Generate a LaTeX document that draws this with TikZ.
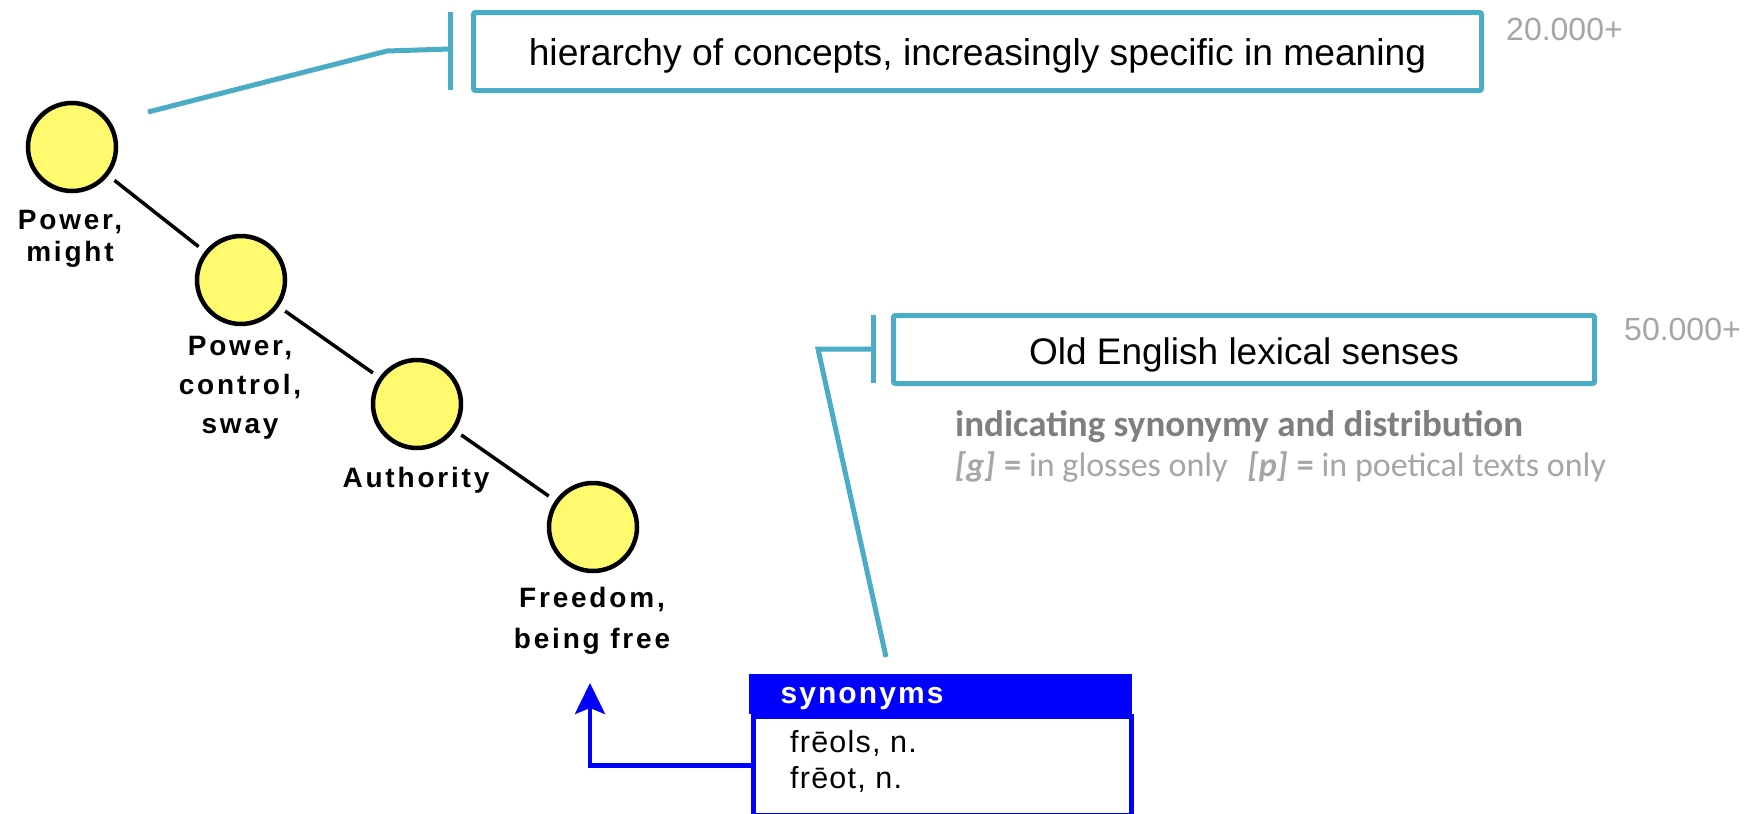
\documentclass[tikz,border=0pt]{standalone}
\usepackage{fontspec}
\setmainfont{Liberation Sans}
\newfontfamily\lblfont{Liberation Sans}[LetterSpace=10]
\newfontfamily\synfont{Liberation Sans}[LetterSpace=7]
\newfontfamily\wordfont{Liberation Sans}[LetterSpace=4]
\newfontfamily\calfont{Carlito}
\usetikzlibrary{arrows.meta}
\definecolor{calloutc}{HTML}{4BACC6}
\definecolor{conceptc}{HTML}{FFFA6E}
\definecolor{darkgrayc}{HTML}{7F7F7F}
\definecolor{lightgrayc}{HTML}{A6A6A6}
\definecolor{synblue}{HTML}{0000FF}
\begin{document}
\begin{tikzpicture}[x=1pt,y=-1pt,
  concept/.style={circle, draw=black, line width=4.5pt, fill=conceptc, minimum size=88pt, inner sep=0pt, outer sep=0pt},
  treeedge/.style={draw=black, line width=3.5pt, shorten >=10pt, shorten <=10pt},
  clabel/.style={anchor=base, inner sep=0pt, font=\lblfont\bfseries\fontsize{28}{#1}\selectfont},
  callbox/.style={draw=calloutc, line width=5pt, rounded corners=2pt, inner sep=0pt, fill=white},
  callline/.style={draw=calloutc, line width=5pt},
  countlbl/.style={anchor=base west, inner sep=0pt, text=lightgrayc, font=\fontsize{32}{38}\selectfont},
  synword/.style={anchor=base west, inner sep=0pt, font=\wordfont\fontsize{30.5}{36}\selectfont},
]
\useasboundingbox[fill=white] (0,0) rectangle (1749,814);

% concept hierarchy
\node[concept] (c1) at (72,147) {};
\node[concept] (c2) at (241,280) {};
\node[concept] (c3) at (417,404) {};
\node[concept] (c4) at (593,527) {};
\draw[treeedge] (c1) -- (c2);
\draw[treeedge] (c2) -- (c3);
\draw[treeedge] (c3) -- (c4);

\node[clabel=32.5] (l1) at (70,229) {\begin{tabular}[t]{@{}c@{}}Power,\\might\end{tabular}};
\node[clabel=39] (l2) at (240,355) {\begin{tabular}[t]{@{}c@{}}Power,\\control,\\sway\end{tabular}};
\node[clabel=36] (l3) at (416,487) {Authority};
\node[clabel=41] (l4) at (592,607) {\begin{tabular}[t]{@{}c@{}}Freedom,\\being free\end{tabular}};

% callout 1
\node[callbox, minimum width=1008pt, minimum height=78pt, text height=30pt, text depth=3pt,
      font=\fontsize{37.2}{44}\selectfont] (hier) at (977.5,51.5)
      {hierarchy of concepts, increasingly specific in meaning};
\coordinate (k1) at (450,49);
\coordinate (p1) at (148,112);
\draw[callline] (450,12) -- (450,90);
\draw[callline] (p1) -- (387,51) -- (k1);
\node[countlbl] (n1) at (1506,40) {20.000+};

% callout 2
\node[callbox, minimum width=701pt, minimum height=68pt, text height=32pt, text depth=3pt,
      font=\fontsize{37}{44}\selectfont] (oes) at (1244,349.5)
      {Old English lexical senses};
\coordinate (k2) at (873,349);
\coordinate (p2) at (886,657);
\draw[callline] (873,315) -- (873,383);
\draw[callline] (p2) -- (818,349) -- (k2);
\node[countlbl] (n2) at (1624,340) {50.000+};

\node[anchor=base west, inner sep=0pt, text=darkgrayc, font=\calfont\bfseries\fontsize{37}{44}\selectfont]
  (ind) at (955,436) {indicating synonymy and distribution};
\node[anchor=base west, inner sep=0pt, text=lightgrayc, font=\calfont\fontsize{34}{41}\selectfont]
  (dist) at (955,476) {\textbf{\textit{[g]}}\hspace{9pt}\textbf{=}\hspace{8pt}in glosses only\hspace{20pt}\textbf{\textit{[p]}}\hspace{9pt}\textbf{=}\hspace{8pt}in poetical texts only};

% synonyms box
\node[draw=synblue, fill=synblue, line width=1pt, minimum width=382pt, minimum height=39pt, inner sep=0pt,
      anchor=north west, text height=24pt, text depth=4pt, text width=350pt, align=left,
      text=white, font=\synfont\bfseries\fontsize{30}{36}\selectfont] (synhead) at (748.5,673.5)
      {\hspace*{15.5pt}synonyms};
\node[draw=synblue, fill=white, line width=5pt, minimum width=378pt, minimum height=99pt, inner sep=0pt,
      anchor=north west] (synbody) at (750.5,713.5) {};
\node[synword] (w1) at (790,752) {frēols, n.};
\node[synword] (w2) at (790,788) {frēot, n.};
\coordinate (atip) at (590,683);
\draw[synblue, line width=4.5pt, -{Stealth[length=31pt,width=30pt,inset=6pt]}] (synbody.west) -| (atip);
\end{tikzpicture}
\end{document}
